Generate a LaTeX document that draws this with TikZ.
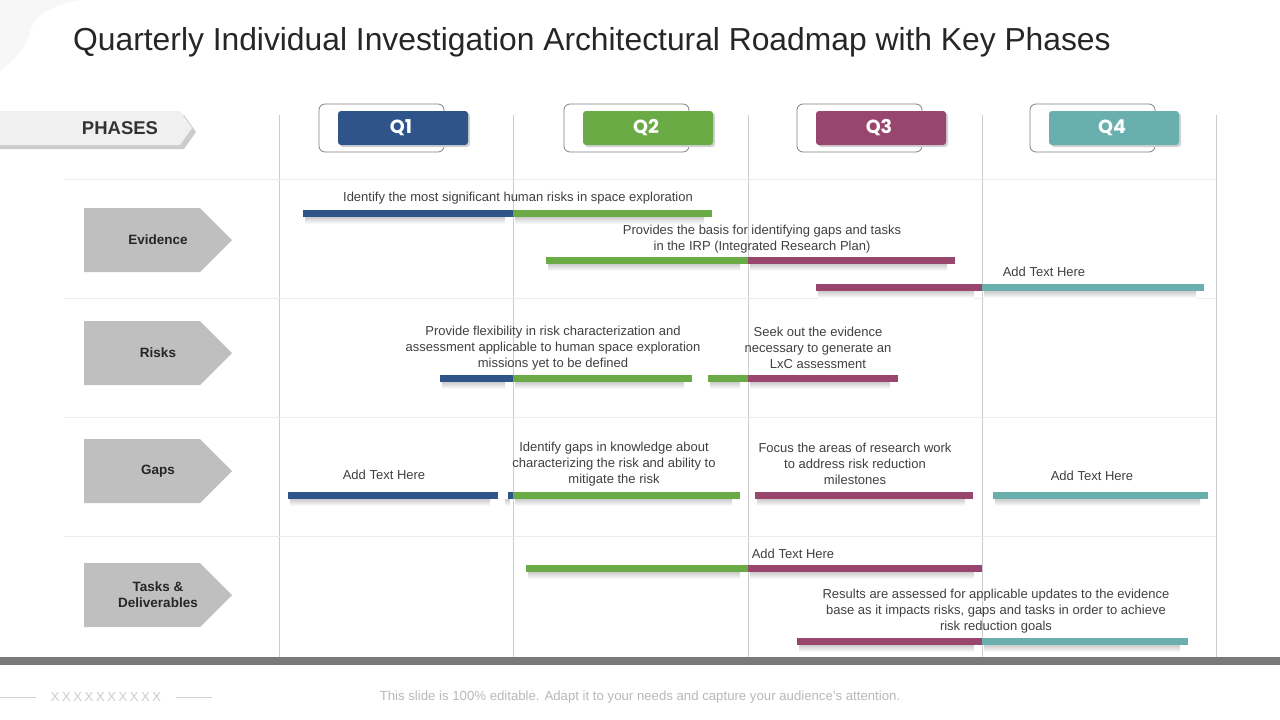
\documentclass[tikz,border=0pt]{standalone}
\usepackage{fontspec}
\setmainfont{Liberation Sans}
\newfontfamily\qfont{Poppins}
\definecolor{qblue}{HTML}{2F5489}
\definecolor{qgreen}{HTML}{6AAB46}
\definecolor{qplum}{HTML}{98466E}
\definecolor{qteal}{HTML}{69AFAD}
\definecolor{tagGrey}{HTML}{BFBFBF}
\definecolor{inkGrey}{HTML}{404040}
\newcommand{\roadbar}[4]{% y, start, end, colour
  \shade[top color=gray!40,bottom color=white] (#2+2,#1+7) rectangle (#3-8,#1+14);
  \fill[#4] (#2,#1) rectangle (#3,#1+7);}
\newcommand{\rowtag}[2]{% centre y, name
  \fill[tagGrey] (84,#1-32) -- (200,#1-32) -- (232,#1) -- (200,#1+32) -- (84,#1+32) -- cycle;}
\newcommand{\qhead}[3]{% left of colour box, colour, label
  \draw[black!50,line width=0.8pt,rounded corners=6pt,fill=white] (#1-19,104) rectangle (#1+106,152);
  \fill[gray!35,rounded corners=3pt] (#1+2,113) rectangle (#1+132,147);
  \fill[#2,rounded corners=3pt] (#1,111) rectangle (#1+130,145);
  \node[text=white,font=\qfont\bfseries\fontsize{19}{19}\selectfont] (#3) at (#1+63,128) {#3};}
\begin{document}
\begin{tikzpicture}[x=1pt,y=-1pt,
  bartxt/.style={text=inkGrey,align=center,inner sep=0pt,font=\fontsize{13}{16}\selectfont},
  tagtxt/.style={text=black!85,align=center,inner sep=0pt,font=\bfseries\fontsize{13.5}{16}\selectfont}]
\useasboundingbox (0,0) rectangle (1280,720);
\fill[white] (0,0) rectangle (1280,720);
\fill[gray!6] (0,0) -- (80,0) .. controls (55,5) and (35,12) .. (30,32) .. controls (25,52) and (10,62) .. (0,72) -- cycle;
\node[anchor=west,text=black!85,inner sep=0pt,font=\fontsize{31.8}{32}\selectfont] (title) at (73,42) {Quarterly Individual Investigation Architectural Roadmap with Key Phases};
% grid
\foreach \x in {279,513,748,982,1216}
  \draw[gray!40] (\x,115) -- (\x,657);
\foreach \y in {179,298,417,536}
  \draw[gray!15] (64,\y) -- (1216,\y);
% phases banner
\fill[gray!40] (0,115) -- (184,115) -- (196,132) -- (184,149) -- (0,149) -- cycle;
\fill[gray!12] (0,111) -- (180,111) -- (192,128) -- (180,145) -- (0,145) -- cycle;
\node[text=black!80,font=\bfseries\fontsize{18.5}{18}\selectfont] (phases) at (120,128) {PHASES};
% quarters
\qhead{338}{qblue}{Q1}
\qhead{583}{qgreen}{Q2}
\qhead{816}{qplum}{Q3}
\qhead{1049}{qteal}{Q4}
% row tags
\rowtag{240}{evidence}
\node[tagtxt] (evidence) at (158,240) {Evidence};
\rowtag{353}{risks}
\node[tagtxt] (risks) at (158,353) {Risks};
\rowtag{471}{gaps}
\node[tagtxt] (gaps) at (158,471) {Gaps};
\rowtag{595}{tasks}
\node[tagtxt] (tasks) at (158,595) {Tasks \&\\Deliverables};
% evidence
\roadbar{210}{303}{513}{qblue}
\roadbar{210}{513}{712}{qgreen}
\node[bartxt] (ev1) at (518,198) {Identify the most significant human risks in space exploration};
\roadbar{257}{546}{748}{qgreen}
\roadbar{257}{748}{955}{qplum}
\node[bartxt] (ev2) at (762,239) {Provides the basis for identifying gaps and tasks\\in the IRP (Integrated Research Plan)};
\roadbar{284}{816}{982}{qplum}
\roadbar{284}{982}{1204}{qteal}
\node[bartxt] (ev3) at (1044,272) {Add Text Here};
% risks
\roadbar{375}{440}{513}{qblue}
\roadbar{375}{513}{692}{qgreen}
\node[bartxt] (rk1) at (553,348) {Provide flexibility in risk characterization and\\assessment applicable to human space exploration\\missions yet to be defined};
\roadbar{375}{708}{748}{qgreen}
\roadbar{375}{748}{898}{qplum}
\node[bartxt] (rk2) at (818,348) {Seek out the evidence\\necessary to generate an\\LxC assessment};
% gaps
\roadbar{492}{288}{498}{qblue}
\node[bartxt] (gp1) at (384,475) {Add Text Here};
\roadbar{492}{508}{513}{qblue}
\roadbar{492}{513}{740}{qgreen}
\node[bartxt] (gp2) at (614,464) {Identify gaps in knowledge about\\characterizing the risk and ability to\\mitigate the risk};
\roadbar{492}{755}{973}{qplum}
\node[bartxt] (gp3) at (855,464) {Focus the areas of research work\\to address risk reduction\\milestones};
\roadbar{492}{993}{1208}{qteal}
\node[bartxt] (gp4) at (1092,476) {Add Text Here};
% tasks
\roadbar{565}{526}{748}{qgreen}
\roadbar{565}{748}{982}{qplum}
\node[bartxt] (tk1) at (793,554) {Add Text Here};
\roadbar{638}{797}{982}{qplum}
\roadbar{638}{982}{1188}{qteal}
\node[bartxt] (tk2) at (996,611) {Results are assessed for applicable updates to the evidence\\base as it impacts risks, gaps and tasks in order to achieve\\risk reduction goals};
% footer
\fill[gray!95!black] (0,657) rectangle (1280,665);
\draw[gray!35] (0,697) -- (36,697);
\draw[gray!35] (176,697) -- (212,697);
\node[text=gray!40,inner sep=0pt,font=\fontsize{13}{13}\selectfont\addfontfeature{LetterSpace=20}] (code) at (106,697) {XXXXXXXXXX};
\node[text=gray!55,inner sep=0pt,font=\fontsize{13.2}{13}\selectfont] (note) at (640,697) {This slide is 100\% editable. Adapt it to your needs and capture your audience’s attention.};
\end{tikzpicture}
\end{document}
